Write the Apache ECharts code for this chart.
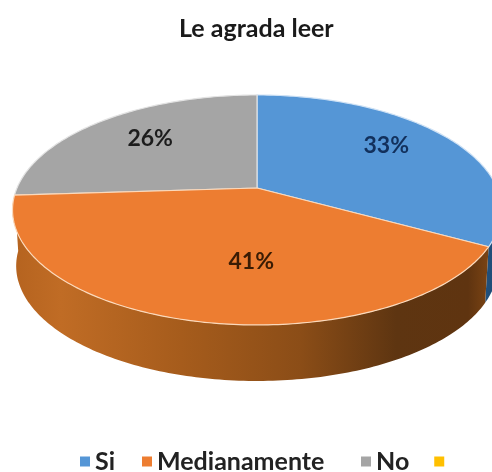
<!DOCTYPE html>
<html><head><meta charset="utf-8">
<style>html,body{margin:0;padding:0;background:#fff}#c{width:492px;height:472px}</style>
<script src="https://cdn.jsdelivr.net/npm/echarts@6/dist/echarts.min.js"></script>
</head><body><div id="c"></div>
<script>
const titleText = 'Le agrada leer';
const categories = ['Si', 'Medianamente', 'No', ' '];
const shares = [33, 41, 26, 0];
const labels = ['33%', '41%', '26%', ''];
const colors = ['#5596d6', '#ed7d31', '#a5a5a5', '#ffc000'];

// projection of the tilted disc
const CX = 257, CY = 188, RX = 240, RY = 110.8, PERSP = 0.191, DEPTH = 56;
const FONT = 'Lato, "Open Sans", sans-serif';
const total = shares.reduce((a, b) => a + b, 0);
const edge = ['#cfe2f5', '#fbd9bb', '#e3e3e3', '#fff'];
const labelColor = ['#12305c', '#3a1c04', '#1c1c1c', '#000'];
const labelNudge = [[3, -8], [33, -6], [-2, -4], [0, 0]];
const sideFill = [
  { type: 'linear', x: 440, y: 0, x2: 492, y2: 0, global: true,
    colorStops: [{ offset: 0, color: '#2f6a9c' }, { offset: 1, color: '#1f4d78' }] },
  { type: 'linear', x: 13, y: 0, x2: 492, y2: 0, global: true,
    colorStops: [{ offset: 0, color: '#b5631f' }, { offset: 0.1, color: '#c06c25' },
      { offset: 0.35, color: '#a65c1c' }, { offset: 0.6, color: '#8b4d17' },
      { offset: 0.8, color: '#5e3511' }, { offset: 0.95, color: '#5f3410' },
      { offset: 1, color: '#7f4614' }] },
  null, null
];

function project(a, r, drop) {
  const X = Math.sin(a) * r, Y = -Math.cos(a) * r, d = 1 - PERSP * Y;
  const shrink = drop ? 0.985 : 1;
  return [CX + RX * shrink * X / d, CY + RY * Y / d + (drop || 0)];
}
function arc(a0, a1, drop) {
  const pts = [], n = Math.max(2, Math.ceil(Math.abs(a1 - a0) * 60));
  for (let i = 0; i <= n; i++) pts.push(project(a0 + (a1 - a0) * i / n, 1, drop));
  return pts;
}
function renderSlice(i) {
  return function () {
    if (!shares[i]) return { type: 'group', children: [] };
    const before = shares.slice(0, i).reduce((a, b) => a + b, 0);
    const a0 = before / total * 2 * Math.PI, a1 = (before + shares[i]) / total * 2 * Math.PI;
    const children = [];
    const s0 = Math.max(a0, Math.PI * 0.42), s1 = Math.min(a1, Math.PI * 1.5);
    if (sideFill[i] && s1 > s0) {
      children.push({ type: 'polygon', z2: 1,
        shape: { points: arc(s0, s1, 0).concat(arc(s1, s0, DEPTH)) },
        style: { fill: sideFill[i] } });
    }
    children.push({ type: 'polygon', z2: 2,
      shape: { points: [project(0, 0, 0)].concat(arc(a0, a1, 0)) },
      style: { fill: colors[i], stroke: edge[i], lineWidth: 1.2, lineJoin: 'round' } });
    const mid = (a0 + a1) / 2, p = project(mid, 0.65, 0);
    children.push({ type: 'text', z2: 3,
      x: p[0] + labelNudge[i][0], y: p[1] + labelNudge[i][1],
      style: { text: labels[i], fill: labelColor[i], font: 'bold 23px ' + FONT,
        align: 'center', verticalAlign: 'middle' } });
    return { type: 'group', children };
  };
}
function legendPart(idx, left) {
  return {
    data: idx.map(i => ({ name: categories[i], icon: 'rect', itemStyle: { color: colors[i] } })),
    left, top: 444, itemWidth: 10, itemHeight: 10, itemGap: 25,
    textStyle: { fontFamily: FONT, fontSize: 25, fontWeight: 'bold', color: '#222' }
  };
}
// orange is painted last so that its rim lies over its neighbours
const paintOrder = [0, 2, 3, 1];
const chart = echarts.init(document.getElementById('c'), null, { renderer: 'canvas' });
chart.setOption({
  animation: false,
  backgroundColor: '#fff',
  title: { text: titleText, left: 174, top: 11,
    textStyle: { fontFamily: FONT, fontSize: 25, fontWeight: 'bold', color: '#1a1a1a' } },
  legend: [legendPart([0], 75), legendPart([1], 137), legendPart([2, 3], 356)],
  series: paintOrder.map(i => ({
    type: 'custom', name: categories[i], coordinateSystem: 'none',
    itemStyle: { color: colors[i] }, z: 2,
    renderItem: renderSlice(i), data: [[shares[i]]], silent: true
  }))
});
</script></body></html>
